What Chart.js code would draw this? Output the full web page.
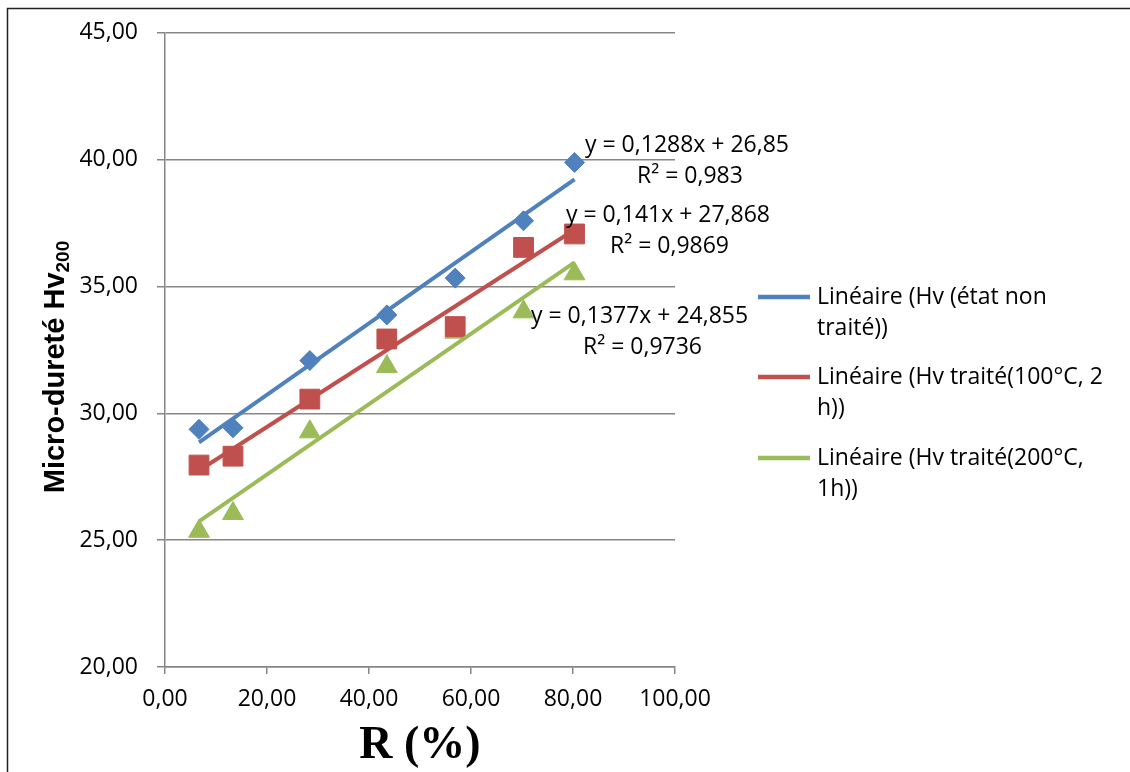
<!DOCTYPE html>
<html>
<head>
<meta charset="utf-8">
<script src="https://cdn.jsdelivr.net/npm/chart.js@4/dist/chart.umd.min.js"></script>
<style>
html,body{margin:0;padding:0;background:#fff;overflow:hidden}
#wrap{width:1130px;height:772px;position:relative}
</style>
</head>
<body>
<div id="wrap"><canvas id="c" width="1130" height="772"></canvas></div>
<script>
// ---- data ----
const rValues      = [6.67, 13.33, 28.4, 43.5, 56.9, 70.3, 80.3];
const hvUntreated  = [29.37, 29.43, 32.08, 33.88, 35.33, 37.59, 39.89];
const hv100        = [27.96, 28.31, 30.56, 32.93, 33.42, 36.54, 37.07];
const hv200        = [25.35, 26.05, 29.27, 31.84, 33.2, 34.0, 35.5];
const seriesNames  = ['Hv (état non traité)', 'Hv traité(100°C, 2 h)', 'Hv traité(200°C, 1h)'];
const legendLines  = [['Linéaire (Hv (état non', 'traité))'],
                      ['Linéaire (Hv traité(100°C, 2', 'h))'],
                      ['Linéaire (Hv traité(200°C,', '1h))']];
const eqTexts      = [['y = 0,1288x + 26,85', 'R² = 0,983'],
                      ['y = 0,141x + 27,868', 'R² = 0,9869'],
                      ['y = 0,1377x + 24,855', 'R² = 0,9736']];
const xTicks = [0, 20, 40, 60, 80, 100];
const yTicks = [20, 25, 30, 35, 40, 45];
const colors = ['#4F81BD', '#C0504D', '#9BBB59'];
const pointStyles = ['rectRot', 'rect', 'triangle'];
const pointRadii = [10, 14, 12];

// least-squares trend line (as Excel's linear trendline)
function trend(xs, ys) {
  const n = xs.length;
  const mx = xs.reduce((a, b) => a + b, 0) / n;
  const my = ys.reduce((a, b) => a + b, 0) / n;
  let sxy = 0, sxx = 0;
  for (let i = 0; i < n; i++) { sxy += (xs[i] - mx) * (ys[i] - my); sxx += (xs[i] - mx) ** 2; }
  const a = sxy / sxx, b = my - a * mx;
  const x0 = Math.min(...xs), x1 = Math.max(...xs);
  return [{x: x0, y: a * x0 + b}, {x: x1, y: a * x1 + b}];
}

const seriesY = [hvUntreated, hv100, hv200];
const datasets = [];
seriesY.forEach((ys, i) => {
  datasets.push({
    type: 'line', label: legendLines[i].join(' '), data: trend(rValues, ys),
    borderColor: colors[i], borderWidth: 4, pointRadius: 0, pointHoverRadius: 0,
    showLine: true, fill: false, order: 0
  });
});
seriesY.forEach((ys, i) => {
  datasets.push({
    type: 'scatter', label: seriesNames[i], data: rValues.map((x, k) => ({x, y: ys[k]})),
    backgroundColor: colors[i], borderColor: colors[i], borderWidth: 1,
    pointStyle: pointStyles[i], pointRadius: pointRadii[i], pointHoverRadius: pointRadii[i],
    showLine: false, order: 1
  });
});

const fmt = v => Number(v).toFixed(2).replace('.', ',');
const FONT = '"Open Sans", "DejaVu Sans", sans-serif';

const decor = {
  id: 'decor',
  beforeDraw(chart) {
    const c = chart.ctx;
    c.save();
    c.fillStyle = '#fff';
    c.fillRect(0, 0, chart.width, chart.height);
    c.strokeStyle = '#222';
    c.lineWidth = 1.5;
    c.beginPath();
    c.moveTo(7.5, 772); c.lineTo(7.5, 8.5); c.lineTo(1130, 8.5);
    c.stroke();
    c.restore();
  },
  afterDraw(chart) {
    const c = chart.ctx;
    c.save();
    // trendline equations
    c.fillStyle = '#000';
    c.font = '23px ' + FONT;
    c.textBaseline = 'middle';
    c.textAlign = 'left';
    const eqPos = [[[585, 145], [637, 176]], [[566, 215], [610, 246]], [[531, 316], [583, 347]]];
    eqTexts.forEach((lines, i) => {
      lines.forEach((t, j) => c.fillText(t, eqPos[i][j][0], eqPos[i][j][1]));
    });
    // legend
    const legY = [297, 377, 458];
    legendLines.forEach((lines, i) => {
      c.strokeStyle = colors[i];
      c.lineWidth = 4.5;
      c.beginPath();
      c.moveTo(758, legY[i]); c.lineTo(810, legY[i]);
      c.stroke();
      c.fillStyle = '#000';
      lines.forEach((t, j) => c.fillText(t, 817, legY[i] + j * 31));
    });
    // y axis title with subscript
    c.save();
    c.translate(64, 367);
    c.rotate(-Math.PI / 2);
    c.textBaseline = 'alphabetic';
    const mainT = 'Micro-dureté Hv', subT = '200';
    c.font = 'bold 29px "Liberation Sans", Arial, sans-serif';
    const wm = c.measureText(mainT).width;
    c.font = 'bold 19px "Liberation Sans", Arial, sans-serif';
    const ws = c.measureText(subT).width;
    const start = -(wm + ws) / 2;
    c.fillStyle = '#000';
    c.font = 'bold 29px "Liberation Sans", Arial, sans-serif';
    c.fillText(mainT, start, 0);
    c.font = 'bold 19px "Liberation Sans", Arial, sans-serif';
    c.fillText(subT, start + wm, 5);
    c.restore();
    // x axis title
    c.font = 'bold 46px "Liberation Serif", "Times New Roman", serif';
    c.textAlign = 'center';
    c.textBaseline = 'alphabetic';
    c.fillText('R (%)', 420, 758);
    c.restore();
  }
};

new Chart(document.getElementById('c'), {
  type: 'scatter',
  data: { datasets },
  options: {
    responsive: false,
    animation: false,
    devicePixelRatio: 1,
    events: [],
    layout: { padding: { left: 0, top: 31, right: 455, bottom: 0 } },
    plugins: { legend: { display: false }, tooltip: { enabled: false } },
    scales: {
      x: {
        type: 'linear', min: 0, max: 100,
        afterBuildTicks: s => { s.ticks = xTicks.map(v => ({ value: v })); },
        grid: { drawOnChartArea: false, color: '#868686', lineWidth: 1.5, tickLength: 7, tickColor: '#868686' },
        border: { color: '#868686', width: 1.5 },
        ticks: { font: { family: FONT, size: 23 }, color: '#000', padding: 12, maxRotation: 0, autoSkip: false, callback: v => fmt(v) },
        afterFit: s => { s.height = 105; }
      },
      y: {
        type: 'linear', min: 20, max: 45,
        afterBuildTicks: s => { s.ticks = yTicks.map(v => ({ value: v })); },
        grid: { color: '#868686', lineWidth: 1.5, tickLength: 8, tickColor: '#868686' },
        border: { color: '#868686', width: 1.5 },
        ticks: { font: { family: FONT, size: 23 }, color: '#000', padding: 19, autoSkip: false, callback: v => fmt(v) },
        afterFit: s => { s.width = 165; }
      }
    }
  },
  plugins: [decor]
});
</script>
</body>
</html>
